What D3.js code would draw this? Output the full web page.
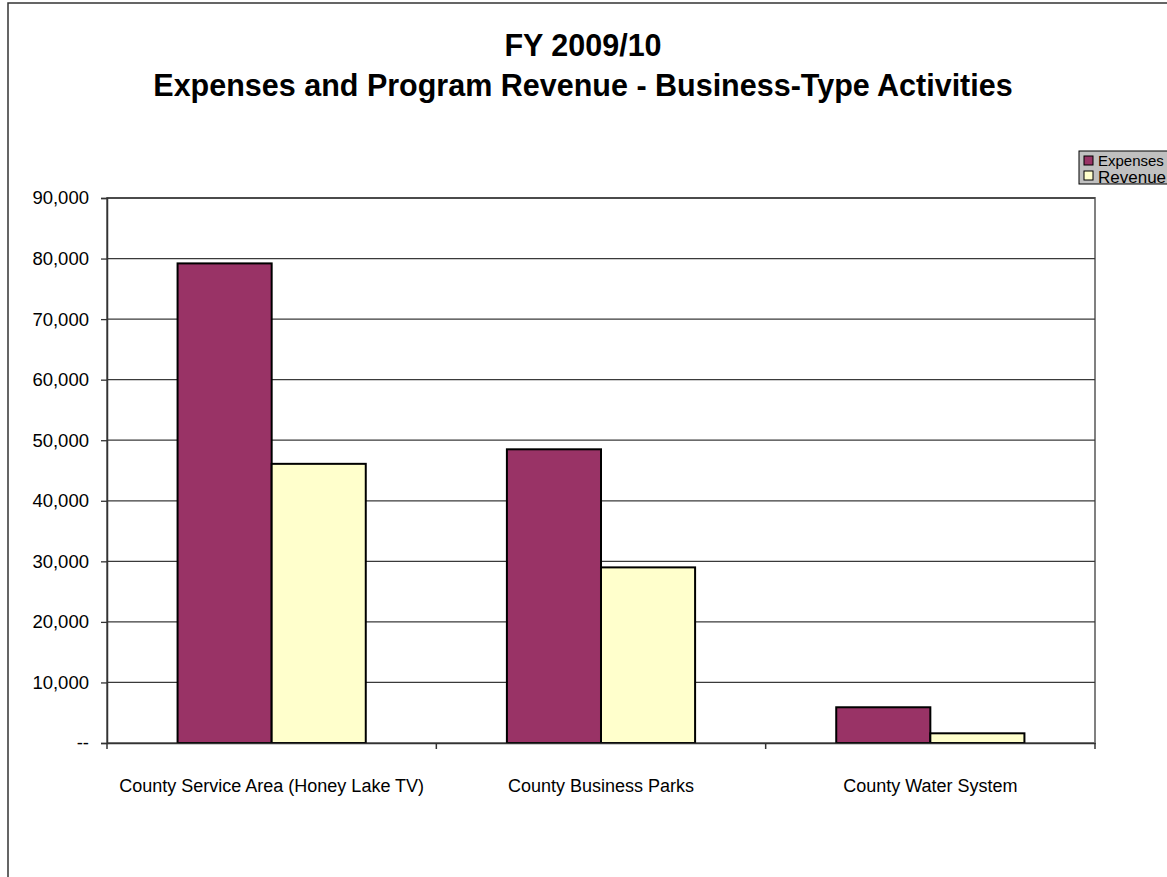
<!DOCTYPE html>
<html>
<head>
<meta charset="utf-8">
<script src="https://cdn.jsdelivr.net/npm/d3@7"></script>
<style>
  html, body { margin: 0; padding: 0; background: #fff; }
  svg { display: block; font-family: Arial, "Liberation Sans", Helvetica, sans-serif; }
</style>
</head>
<body>
<svg id="chart" width="1167" height="877"></svg>
<script>
// Business-type activities, FY 2009/10 (dollars)
const categories = ["County Service Area (Honey Lake TV)", "County Business Parks", "County Water System"];
const seriesNames = ["Expenses", "Revenue"];
const expenses = [79200, 48500, 5900];
const revenue = [46100, 29000, 1600];
const yTicks = [0, 10000, 20000, 30000, 40000, 50000, 60000, 70000, 80000, 90000];
const titleLines = ["FY 2009/10", "Expenses and Program Revenue - Business-Type Activities"];

const colors = { Expenses: "#993366", Revenue: "#FFFFCC" };
const seriesValues = { Expenses: expenses, Revenue: revenue };

const svg = d3.select("#chart");
const W = 1167, H = 877;

// outer chart frame
svg.append("rect")
  .attr("x", 8).attr("y", 3)
  .attr("width", W + 20).attr("height", H + 20)
  .attr("fill", "#fff").attr("stroke", "#333").attr("stroke-width", 1.5);

// titles
svg.append("g").selectAll("text").data(titleLines).join("text")
  .attr("x", 583).attr("y", (d, i) => 56 + i * 40)
  .attr("text-anchor", "middle")
  .attr("font-size", 30.5).attr("font-weight", "bold").attr("fill", "#000")
  .text(d => d);

const plot = { left: 107, right: 1095, top: 198, bottom: 743 };

const x0 = d3.scaleBand().domain(categories).range([plot.left, plot.right]).paddingInner(0).paddingOuter(0);
// gap width of 150% of a bar on each category
const barW = x0.bandwidth() / 3.5;
const x1 = d3.scaleBand().domain(seriesNames).range([0, barW * 2]);
const y = d3.scaleLinear().domain([0, 90000]).range([plot.bottom, plot.top]);

// plot area background & border
svg.append("rect")
  .attr("x", plot.left).attr("y", plot.top)
  .attr("width", plot.right - plot.left).attr("height", plot.bottom - plot.top)
  .attr("fill", "#fff").attr("stroke", "#808080").attr("stroke-width", 2);

// gridlines
svg.append("g").selectAll("line").data(yTicks.filter(d => d > 0)).join("line")
  .attr("x1", plot.left).attr("x2", plot.right)
  .attr("y1", d => y(d)).attr("y2", d => y(d))
  .attr("stroke", "#3a3a3a").attr("stroke-width", 1.3);

// bars
const groups = svg.append("g").selectAll("g").data(categories).join("g")
  .attr("transform", d => `translate(${x0(d) + barW * 0.75},0)`);

groups.selectAll("rect")
  .data((c, i) => seriesNames.map(s => ({ s, v: seriesValues[s][i] })))
  .join("rect")
  .attr("x", d => x1(d.s))
  .attr("y", d => y(d.v))
  .attr("width", x1.bandwidth())
  .attr("height", d => y(0) - y(d.v))
  .attr("fill", d => colors[d.s])
  .attr("stroke", "#000").attr("stroke-width", 2);

// y axis
const yAxis = d3.axisLeft(y).tickValues(yTicks).tickSize(6).tickPadding(12)
  .tickFormat(d => d === 0 ? "--" : d3.format(",")(d));
const gy = svg.append("g").attr("transform", `translate(${plot.left},0)`).call(yAxis);
gy.select(".domain").attr("stroke", "#333").attr("stroke-width", 1.5);
gy.selectAll(".tick line").attr("stroke", "#333").attr("stroke-width", 1.3);
gy.selectAll(".tick text").attr("font-size", 18.5).attr("fill", "#000")
  .attr("font-family", "Arial, 'Liberation Sans', sans-serif");

// x axis: category boundaries as ticks, labels centred beneath
const xAxis = d3.axisBottom(x0).tickSize(0).tickPadding(36);
const gx = svg.append("g").attr("transform", `translate(0,${plot.bottom})`).call(xAxis);
gx.select(".domain").attr("stroke", "#333").attr("stroke-width", 1.5);
gx.selectAll(".tick text").attr("font-size", 18).attr("fill", "#000")
  .attr("font-family", "Arial, 'Liberation Sans', sans-serif");
svg.append("g").selectAll("line").data(categories).join("line")
  .attr("x1", d => x0(d) + x0.bandwidth()).attr("x2", d => x0(d) + x0.bandwidth())
  .attr("y1", plot.bottom).attr("y2", plot.bottom + 6)
  .attr("stroke", "#333").attr("stroke-width", 1.5);
svg.append("line")
  .attr("x1", plot.left).attr("x2", plot.left)
  .attr("y1", plot.bottom).attr("y2", plot.bottom + 6)
  .attr("stroke", "#333").attr("stroke-width", 1.5);

// legend
const leg = svg.append("g").attr("transform", "translate(1079,151)");
leg.append("rect").attr("width", 120).attr("height", 33)
  .attr("fill", "#c0c0c0").attr("stroke", "#000").attr("stroke-width", 1);
const legItems = leg.selectAll("g.item").data(seriesNames).join("g")
  .attr("class", "item")
  .attr("transform", (d, i) => `translate(5,${5 + i * 15})`);
legItems.append("rect").attr("width", 9).attr("height", 9)
  .attr("fill", d => colors[d]).attr("stroke", "#000").attr("stroke-width", 1);
legItems.append("text").attr("x", 14).attr("y", (d, i) => i === 0 ? 10 : 12)
  .attr("font-size", (d, i) => i === 0 ? 15 : 17).attr("fill", "#000")
  .text(d => d);
</script>
</body>
</html>
